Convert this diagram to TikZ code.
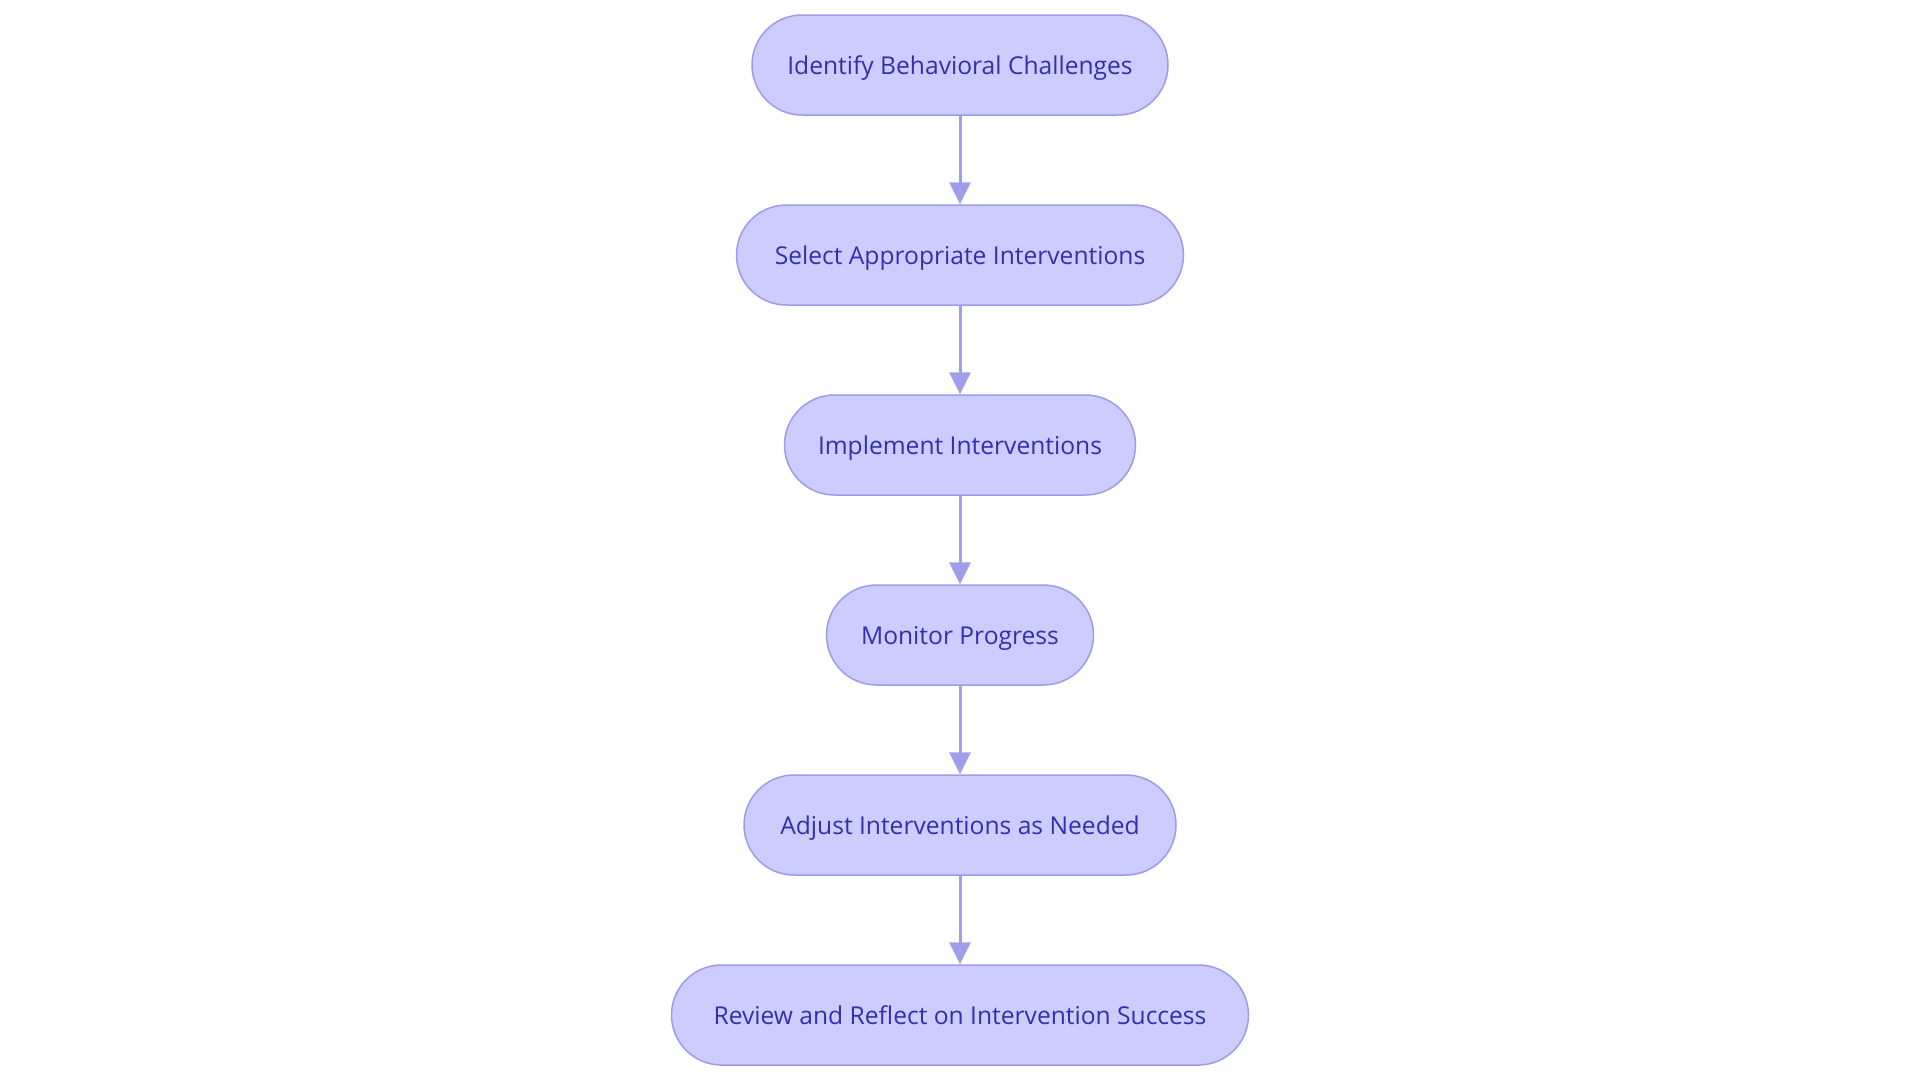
\documentclass[tikz,border=0pt]{standalone}
\usepackage{fontspec}
\setmainfont{Open Sans}
\usetikzlibrary{arrows.meta}
\definecolor{boxfill}{HTML}{CCCCFF}
\definecolor{boxline}{HTML}{9C9CE8}
\definecolor{arrowc}{HTML}{9E9EEA}
\definecolor{txt}{HTML}{3030B0}
\tikzset{
  stepbox/.style={draw=boxline, line width=1.5pt, fill=boxfill, rounded corners=50pt,
    minimum height=100pt, inner sep=0pt, text=txt, font=\fontsize{24.6}{30}\selectfont,
    text height=20pt, text depth=2pt},
  flow/.style={draw=arrowc, line width=3pt, -{Triangle[length=22pt,width=21pt]}}
}
\begin{document}
\begin{tikzpicture}[x=1pt,y=-1pt]
\useasboundingbox (0,0) rectangle (1920,1080);
\node[stepbox, minimum width=416pt] (a) at (960,65) {Identify Behavioral Challenges};
\node[stepbox, minimum width=447pt] (b) at (960,255) {Select Appropriate Interventions};
\node[stepbox, minimum width=351pt] (c) at (960,445) {Implement Interventions};
\node[stepbox, minimum width=267pt] (d) at (960,635) {Monitor Progress};
\node[stepbox, minimum width=432pt] (e) at (960,825) {Adjust Interventions as Needed};
\node[stepbox, minimum width=577pt] (f) at (960,1015) {Review and Reflect on Intervention Success};
\draw[flow] (a) -- (b);
\draw[flow] (b) -- (c);
\draw[flow] (c) -- (d);
\draw[flow] (d) -- (e);
\draw[flow] (e) -- (f);
\end{tikzpicture}
\end{document}
